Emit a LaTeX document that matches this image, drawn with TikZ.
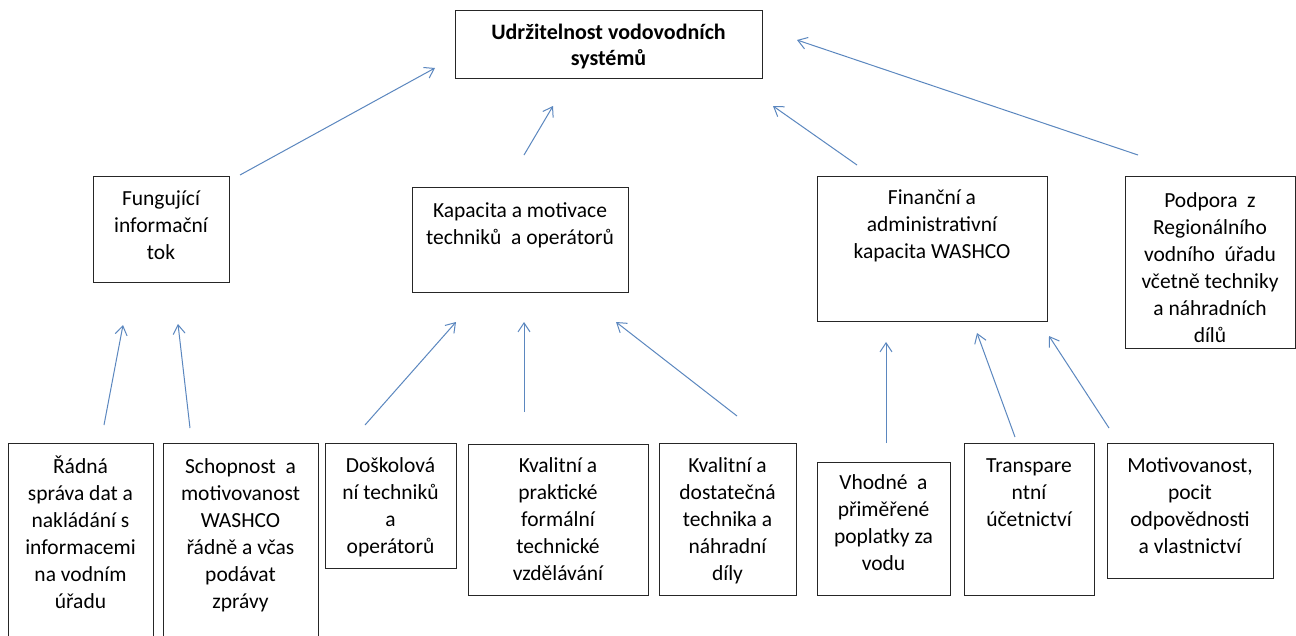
\documentclass[tikz,border=0pt]{standalone}
\usepackage{fontspec}
\setmainfont{Carlito}
\usetikzlibrary{arrows.meta}
\definecolor{arrblue}{HTML}{5B87BF}
\newcommand{\bxt}[4]{\parbox[b][#2pt][t]{#1pt}{\centering\rule{0pt}{#3pt}#4\par}}
\begin{document}
\begin{tikzpicture}[x=1pt,y=-1pt,
  box/.style={draw=black!85, line width=1pt, inner sep=0pt, outer sep=0pt, anchor=north west,
    font=\fontsize{21.5}{27}\selectfont},
  arr/.style={draw=arrblue, line width=1pt, -{Straight Barb[length=9pt,width=12pt,line width=1pt]}}]
\useasboundingbox (0,0) rectangle (1296,635);
\fill[white] (0,0) rectangle (1296,635);
% top
\node[box, font=\fontsize{22}{26}\selectfont\bfseries] (top) at (455,10) {\bxt{307}{68}{29}{Udržitelnost vodovodních\\systémů}};
% middle
\node[box] (fun) at (93,176) {\bxt{136}{106}{29}{Fungující\\informační\\tok}};
\node[box] (kap) at (412,187) {\bxt{216}{105}{30}{Kapacita a motivace\\techniků~ a operátorů}};
\node[box] (fin) at (817,176) {\bxt{230}{145}{28}{Finanční a\\administrativní\\kapacita WASHCO}};
\node[box] (pod) at (1125,176) {\bxt{170}{172}{31}{Podpora~ z\\Regionálního\\vodního~ úřadu\\včetně techniky\\a náhradních\\dílů}};
% bottom
\node[box] (rad) at (8,443) {\bxt{145}{200}{30}{Řádná\\správa dat a\\nakládání s\\informacemi\\na vodním\\úřadu}};
\node[box] (sch) at (163,443) {\bxt{155}{200}{30}{Schopnost~~a\\motivovanost\\WASHCO\\řádně a včas\\podávat\\zprávy}};
\node[box] (dos) at (325,443) {\bxt{131}{125}{29}{Doškolová\\ní techniků\\a\\operátorů}};
\node[box] (kvp) at (468,444) {\bxt{180}{151}{28}{Kvalitní a\\praktické\\formální\\technické\\vzdělávání}};
\node[box] (kvd) at (659,443) {\bxt{137}{152}{29}{Kvalitní a\\dostatečná\\technika a\\náhradní\\díly}};
\node[box] (vho) at (817,462) {\bxt{133}{133}{27}{Vhodné~ a\\přiměřené\\poplatky za\\vodu}};
\node[box] (tra) at (964,443) {\bxt{130}{152}{29}{Transpare\\ntní\\účetnictví}};
\node[box] (mot) at (1107,443) {\bxt{166}{135}{29}{Motivovanost,\\pocit\\odpovědnosti\\a vlastnictví}};
% arrow end points
\coordinate (a1s) at (240,175);  \coordinate (a1e) at (435,68);
\coordinate (a2s) at (524,155);  \coordinate (a2e) at (553,106);
\coordinate (a3s) at (857,165);  \coordinate (a3e) at (773,106);
\coordinate (a4s) at (1138,155); \coordinate (a4e) at (797,40);
\coordinate (b1s) at (104,425);  \coordinate (b1e) at (123,325);
\coordinate (b2s) at (190,428);  \coordinate (b2e) at (178,324);
\coordinate (b3s) at (365,425);  \coordinate (b3e) at (456,322);
\coordinate (b4s) at (524,412);  \coordinate (b4e) at (524,322);
\coordinate (b5s) at (737,416);  \coordinate (b5e) at (616,322);
\coordinate (b6s) at (886,443);  \coordinate (b6e) at (886,342);
\coordinate (b7s) at (1015,437); \coordinate (b7e) at (977,333);
\coordinate (b8s) at (1109,428); \coordinate (b8e) at (1049,336);
\foreach \p in {a1,a2,a3,a4,b1,b2,b3,b4,b5,b6,b7,b8}
  \draw[arr] (\p s) -- (\p e);
\end{tikzpicture}
\end{document}
